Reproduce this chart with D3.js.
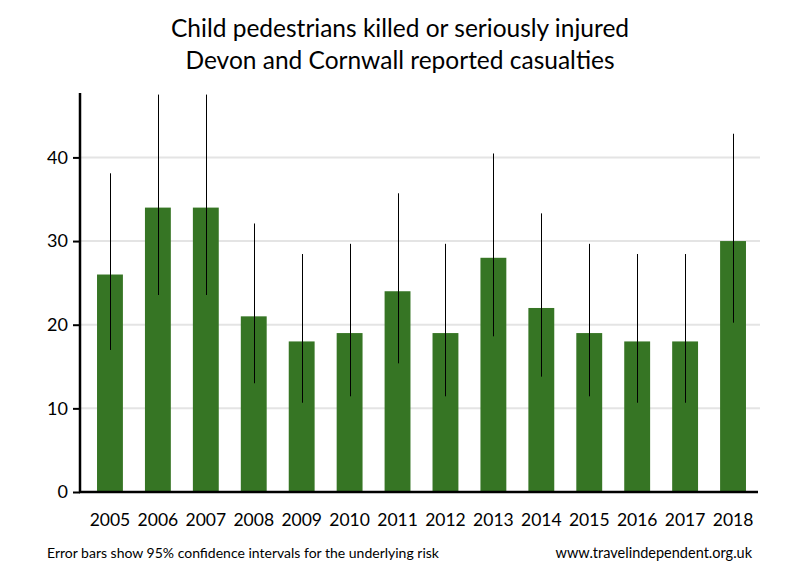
<!DOCTYPE html>
<html><head><meta charset="utf-8">
<script src="https://cdn.jsdelivr.net/npm/d3@7"></script>
<style>body{margin:0;background:#fff}svg{display:block}text{font-family:Lato,"Open Sans",sans-serif}</style>
</head><body>
<svg id="c" width="800" height="580"></svg>
<script>
const years = ["2005","2006","2007","2008","2009","2010","2011","2012","2013","2014","2015","2016","2017","2018"];
const values = [26,34,34,21,18,19,24,19,28,22,19,18,18,30];
const lower = [16.98,23.55,23.55,13.0,10.67,11.44,15.38,11.44,18.61,13.79,11.44,10.67,10.67,20.24];
const upper = [38.10,47.51,47.51,32.1,28.45,29.67,35.71,29.67,40.47,33.31,29.67,28.45,28.45,42.83];
const yTicks = [0,10,20,30,40];
const titleLines = ["Child pedestrians killed or seriously injured","Devon and Cornwall reported casualties"];

(function(){
const svg = d3.select("#c");
const pL = 80, pR = 758, pT = 93, pB = 492;
const x = d3.scaleBand().domain(years).range([86,757]).paddingInner(0.46).paddingOuter(0.23);
const y = d3.scaleLinear().domain([0,47.7]).range([pB, pT]);
const clip = v => Math.min(v, 47.7);

// gridlines
svg.append("g").selectAll("line").data(yTicks.filter(d=>d>0)).join("line")
  .attr("x1",pL).attr("x2",760).attr("y1",d=>y(d)).attr("y2",d=>y(d))
  .attr("stroke","#e4e4e4").attr("stroke-width",2);

// bars
svg.append("g").selectAll("rect").data(values).join("rect")
  .attr("x",(d,i)=>x(years[i])).attr("width",x.bandwidth())
  .attr("y",d=>y(d)).attr("height",d=>pB-y(d)).attr("fill","#367524");

// error bars
svg.append("g").selectAll("line").data(values).join("line")
  .attr("x1",(d,i)=>Math.round(x(years[i])+x.bandwidth()/2)+0.5)
  .attr("x2",(d,i)=>Math.round(x(years[i])+x.bandwidth()/2)+0.5)
  .attr("y1",(d,i)=>y(lower[i])).attr("y2",(d,i)=>y(clip(upper[i])))
  .attr("stroke","#000").attr("stroke-width",1);

// y axis
const ya = svg.append("g").attr("transform",`translate(${pL},0)`)
  .call(d3.axisLeft(y).tickValues(yTicks).tickSize(7).tickPadding(5).tickFormat(d3.format("d")));
ya.select(".domain").remove();
ya.selectAll(".tick line").attr("stroke","#000").attr("stroke-width",2);
ya.selectAll(".tick text").attr("font-size",18).attr("fill","#000").attr("font-family","Lato, sans-serif");
svg.append("line").attr("x1",pL).attr("x2",pL).attr("y1",pT).attr("y2",pB+1)
  .attr("stroke","#000").attr("stroke-width",2.5);

// x axis
const xa = svg.append("g").attr("transform",`translate(0,${pB})`)
  .call(d3.axisBottom(x).tickSize(0).tickPadding(22));
xa.select(".domain").remove();
xa.selectAll(".tick text").attr("font-size",17.5).attr("fill","#000").attr("font-family","Lato, sans-serif");
svg.append("line").attr("x1",pL-1).attr("x2",pR).attr("y1",pB).attr("y2",pB)
  .attr("stroke","#000").attr("stroke-width",2.5);

// title
svg.append("g").selectAll("text").data(titleLines).join("text")
  .attr("x",400).attr("y",(d,i)=>37+i*32).attr("text-anchor","middle")
  .attr("font-size",24.5).attr("fill","#000").text(d=>d);

// footer
svg.append("text").attr("x",47).attr("y",558).attr("font-size",14).attr("fill","#000")
  .text("Error bars show 95% confidence intervals for the underlying risk");
svg.append("text").attr("x",752).attr("y",558).attr("text-anchor","end").attr("font-size",14.5).attr("fill","#000")
  .text("www.travelindependent.org.uk");
})();
</script>
</body></html>
